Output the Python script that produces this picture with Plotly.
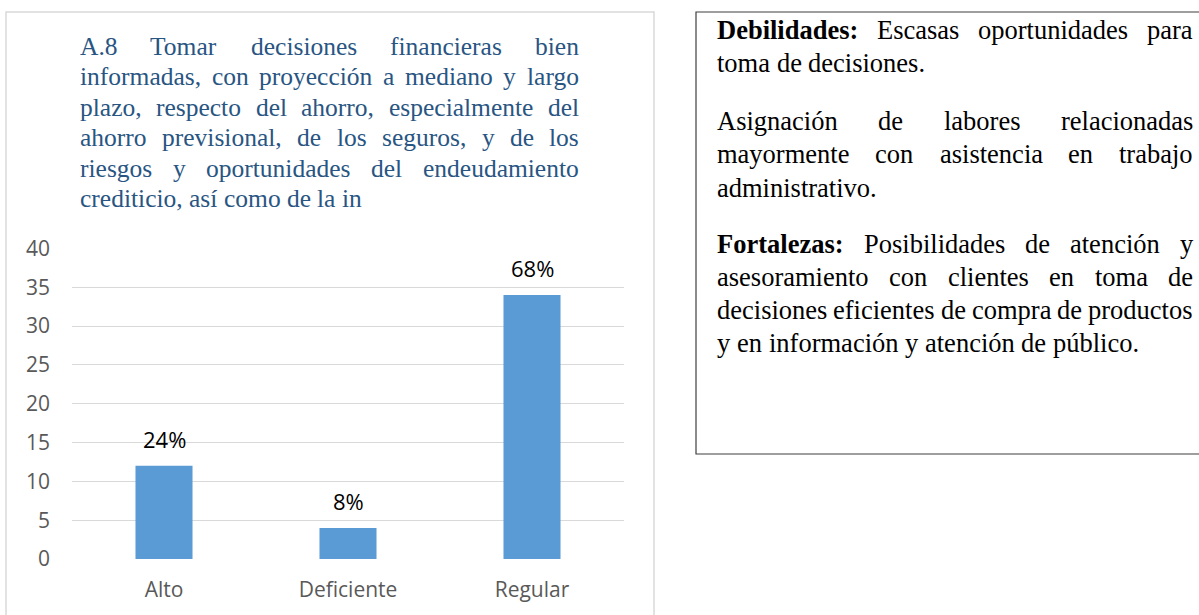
import plotly.graph_objects as go

# ---------------- data ----------------
categories = ["Alto", "Deficiente", "Regular"]
values = [12, 4, 34]
value_labels = ["24%", "8%", "68%"]
y_ticks = [0, 5, 10, 15, 20, 25, 30, 35, 40]

title_lines = [
    "A.8 Tomar decisiones financieras bien",
    "informadas, con proyección a mediano y largo",
    "plazo, respecto del ahorro, especialmente del",
    "ahorro previsional, de los seguros, y de los",
    "riesgos y oportunidades del endeudamiento",
    "crediticio, así como de la in",
]
# paragraphs of the side box; words starting with '*' are bold
box_paragraphs = [
    ["*Debilidades: Escasas oportunidades para",
     "toma de decisiones."],
    ["Asignación de labores relacionadas",
     "mayormente con asistencia en trabajo",
     "administrativo."],
    ["*Fortalezas: Posibilidades de atención y",
     "asesoramiento con clientes en toma de",
     "decisiones eficientes de compra de productos",
     "y en información y atención de público."],
]

# ---------------- geometry / style ----------------
W, H = 1199, 615
BAR_COLOR = "#5B9BD5"
GRID = "#D9D9D9"
TICK_COLOR = "#595959"
TITLE_COLOR = "#295582"
SANS = "Open Sans"
SERIF = "Liberation Serif"

def px(x):
    return x / W

def py(y):
    return 1 - y / H

# Times / Liberation Serif advance widths (1/1000 em)
REG = dict(zip("abcdefghijklmnopqrstuvwxyz",
               [444, 500, 444, 500, 444, 333, 500, 500, 278, 278, 500, 278, 778,
                500, 500, 500, 500, 333, 389, 278, 500, 500, 722, 500, 500, 444]))
REG.update(dict(zip("ABCDEFGHIJKLMNOPQRSTUVWXYZ",
                    [722, 667, 667, 722, 611, 556, 722, 722, 333, 389, 722, 611, 889,
                     722, 722, 556, 722, 667, 556, 611, 722, 722, 944, 722, 722, 611])))
REG.update({"á": 444, "é": 444, "í": 278, "ó": 500, "ú": 500, "ñ": 500,
            ".": 250, ",": 250, ":": 278, " ": 250})
for d in "0123456789":
    REG[d] = 500
BOLD = dict(zip("abcdefghijklmnopqrstuvwxyz",
                [500, 556, 444, 556, 444, 333, 500, 556, 278, 333, 556, 278, 833,
                 556, 500, 556, 556, 444, 389, 333, 556, 500, 722, 500, 500, 444]))
BOLD.update({"D": 722, "F": 611, ":": 333, " ": 250, ".": 250, ",": 250})


def text_width(word, fs, bold=False):
    table = BOLD if bold else REG
    return sum(table.get(c, 500) for c in word) * fs / 1000.0


def justified_line(words, left, right, baseline, fs, color, justify):
    anns = []
    items = []
    for w in words:
        bold = w.startswith("*")
        t = w[1:] if bold else w
        items.append((t, bold, text_width(t, fs, bold)))
    total = sum(i[2] for i in items)
    if justify and len(items) > 1:
        gap = (right - left - total) / (len(items) - 1)
    else:
        gap = fs * 0.25
    x = left
    for t, bold, wd in items:
        anns.append(dict(
            x=px(x), y=py(baseline + 0.216 * fs), xref="paper", yref="paper",
            xanchor="left", yanchor="bottom", showarrow=False,
            borderpad=0, borderwidth=0,
            text=("<b>%s</b>" % t) if bold else t,
            font=dict(family=SERIF, size=fs, color=color),
        ))
        x += wd + gap
    return anns


annotations = []

# chart title (justified, last line flush left)
TITLE_FS = 25.5
title_baselines = [55, 85.5, 116, 146.5, 177, 207.5]
for i, (line, b) in enumerate(zip(title_lines, title_baselines)):
    annotations += justified_line(line.split(" "), 80, 579, b, TITLE_FS,
                                  TITLE_COLOR, i < len(title_lines) - 1)

# side text box
BOX_FS = 26.5
box_baselines = [[39, 72.5], [130, 163.5, 197], [253, 286, 319, 352]]
for para, bls in zip(box_paragraphs, box_baselines):
    for i, (line, b) in enumerate(zip(para, bls)):
        annotations += justified_line(line.split(" "), 717, 1193, b, BOX_FS,
                                      "#000000", i < len(para) - 1)

# data labels above bars
for c, v, lab in zip(categories, values, value_labels):
    annotations.append(dict(
        x=c, y=v, xref="x", yref="y", text=lab, showarrow=False,
        yanchor="bottom", yshift=10, font=dict(family=SANS, size=22, color="#000000"),
    ))

fig = go.Figure(go.Bar(
    x=categories, y=values, marker=dict(color=BAR_COLOR, line=dict(width=0)),
    hoverinfo="skip",
))

shapes = [
    # chart panel border
    dict(type="rect", xref="paper", yref="paper",
         x0=px(6), x1=px(654), y0=py(700), y1=py(12),
         line=dict(color=GRID, width=1.5), fillcolor="rgba(0,0,0,0)", layer="below"),
    # side text box border
    dict(type="rect", xref="paper", yref="paper",
         x0=px(696), x1=px(1230), y0=py(454), y1=py(12),
         line=dict(color="#3F3F3F", width=1.2), fillcolor="rgba(0,0,0,0)"),
]

fig.update_layout(
    width=W, height=H,
    margin=dict(l=0, r=0, t=0, b=0),
    paper_bgcolor="white", plot_bgcolor="white",
    showlegend=False,
    bargap=0.69,
    annotations=annotations,
    shapes=shapes,
    xaxis=dict(domain=[px(72), px(624)], showgrid=False, showline=False,
               zeroline=False, ticks="", ticklabelstandoff=16, automargin=False,
               tickfont=dict(family=SANS, size=21, color=TICK_COLOR),
               fixedrange=True),
    yaxis=dict(domain=[py(559), py(248.5)], range=[0, 40], tickvals=y_ticks,
               showgrid=True, gridcolor=GRID, gridwidth=1.3, zeroline=False,
               showline=False, ticks="", ticklabelstandoff=21, automargin=False,
               tickfont=dict(family=SANS, size=21, color=TICK_COLOR),
               fixedrange=True),
)

fig.write_html(
    "out.html",
    config={"displayModeBar": False},
    post_script="document.body.style.margin='0';document.body.style.overflow='hidden';",
)
